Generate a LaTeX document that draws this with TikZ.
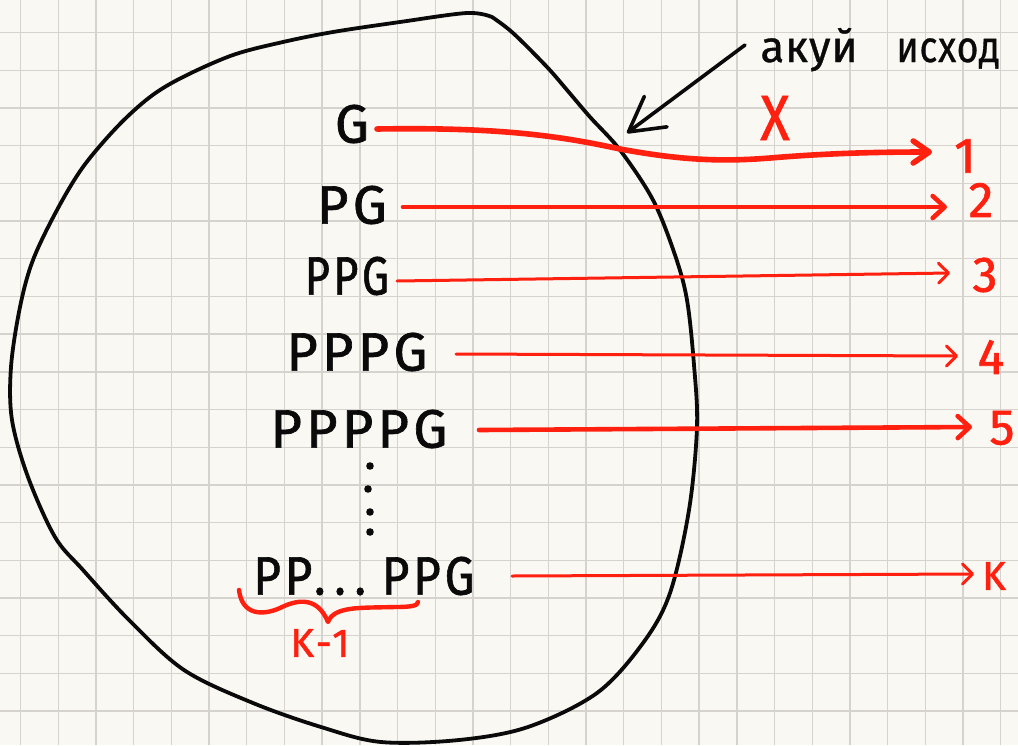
\documentclass[tikz,border=0pt]{standalone}
\usepackage{fontspec}
\usetikzlibrary{arrows.meta}
\newfontfamily\hand[LetterSpace=8,FakeBold=1.2]{Fira Sans}
\newfontfamily\handcyr[LetterSpace=2,FakeBold=0.8]{Fira Sans}
\definecolor{paper}{RGB}{250,248,243}
\definecolor{gridc}{RGB}{214,211,206}
\definecolor{ink}{RGB}{10,10,10}
\definecolor{pen}{RGB}{255,32,16}
\tikzset{
  gridline/.style={draw=gridc, line width=0.7pt},
  blob/.style={draw=ink, line width=1.9pt, line cap=round, line join=round},
  word/.style={inner sep=0pt, text=ink, font=\hand\fontsize{27}{30}\selectfont},
  num/.style={inner sep=0pt, text=pen, font=\hand\fontsize{25}{28}\selectfont},
  redthick/.style={draw=pen, line width=2.8pt, line cap=round, -{Straight Barb[round,length=8pt,width=11pt]}},
  redmid/.style={draw=pen, line width=2.3pt, line cap=round, -{Straight Barb[round,length=6pt,width=11pt]}},
  redthin/.style={draw=pen, line width=1.5pt, line cap=round, -{Straight Barb[round,length=5pt,width=10pt]}},
  blackarrow/.style={draw=ink, line width=1.8pt, line cap=round, -{Straight Barb[round,length=17pt,width=19pt]}},
  dotmark/.style={circle, fill=ink, inner sep=0pt, minimum size=3.8pt},
  cyr/.style={inner sep=0pt, anchor=base west, text=ink, font=\handcyr\fontsize{22}{26}\selectfont},
}
\begin{document}
\begin{tikzpicture}[x=0.5pt,y=-0.5pt]
\useasboundingbox (0,0) rectangle (1018,745);
\fill[paper] (0,0) rectangle (1018,745);
\foreach \i in {0,...,26} \draw[gridline] ({20.5+37.7*\i},0) -- ++(0,745);
\foreach \j in {1,...,19} \draw[gridline] (0,{-5.2+37.7*\j}) -- ++(1018,0);

% the set
\draw[blob] plot[smooth, tension=0.55] coordinates {
 (492,17) (467,13) (400,22) (333,32) (283,42) (233,55) (183,77) (150,97)
 (117,127) (83,167) (57,210) (33,260) (20,307) (11,367) (12,420) (28,477)
 (55,537) (83,570) (129,620) (184,670) (253,703) (321,727) (381,742)
 (459,740) (528,727) (597,693) (643,643) (670,593) (689,510) (697,427)
 (694,365) (687,300) (675,255) (653,200) (620,150) (590,117) (567,90)
 (547,67) (513,33) (492,17)};

% words
\node[word] (t1) at (352,124) {G};
\node[word] (t2) at (352,205) {PG};
\node[word, xscale=0.8] (t3) at (347,276) {PPG};
\node[word] (t4) at (357,352) {PPPG};
\node[word] (t5) at (359,429) {PPPPG};
\node[word, xscale=0.88] (tk) at (364,576) {PP{\kern1pt}.{\kern5pt}.{\kern5pt}.{\kern9pt}PPG};

\node[dotmark] (d1) at (370,466) {};
\node[dotmark] (d2) at (368,489) {};
\node[dotmark] (d3) at (370,512) {};
\node[dotmark] (d4) at (370,532) {};

% outcome labels
\node[num] (n1) at (965,156) {1};
\node[num] (n2) at (981,200) {2};
\node[num] (n3) at (985,275) {3};
\node[num] (n4) at (991,357) {4};
\node[num] (n5) at (1002,428) {5};
\node[num, font=\hand\fontsize{20}{24}\selectfont] (nk) at (994,576) {K};
\node[num, font=\hand\fontsize{32}{36}\selectfont, xscale=0.85] (x) at (775,118) {X};

% arrow start and end points
\coordinate (s1) at (377,129); \coordinate (e1) at (932,152);
\coordinate (s2) at (403,207); \coordinate (e2) at (947,207);
\coordinate (s3) at (397,281); \coordinate (e3) at (950,273);
\coordinate (s4) at (456,354); \coordinate (e4) at (958,356);
\coordinate (s5) at (479,430); \coordinate (e5) at (972,427);
\coordinate (sk) at (512,576); \coordinate (ek) at (974,574);

\draw[redthick] (s1) .. controls (500,127) and (560,136) .. (620,149)
  .. controls (680,160) and (720,162) .. (770,158)
  .. controls (830,153) and (880,152) .. (e1);
\draw[redmid] (s2) -- (e2);
\draw[redthin] (s3) -- (e3);
\draw[redthin] (s4) -- (e4);
\draw[redmid] (s5) -- (e5);
\draw[redthin] (sk) -- (ek);

% brace and K-1
\draw[draw=pen, line width=2.2pt, line cap=round, line join=round]
  (239,590) .. controls (242,615) and (262,616) .. (280,608)
  .. controls (300,598) and (318,598) .. (328,622)
  .. controls (334,606) and (360,608) .. (395,607)
  .. controls (410,607) and (418,606) .. (418,602);
\node[num, font=\hand\fontsize{20}{24}\selectfont] (km) at (320,643) {K-1};

% annotation
\node[cyr] (w1) at (760,62) {акуй};
\node[cyr, xscale=0.85] (w2) at (896,62) {исход};
\coordinate (a0) at (745,45);
\coordinate (a1) at (627,133);
\draw[blackarrow] (a0) -- (a1);
\end{tikzpicture}
\end{document}
